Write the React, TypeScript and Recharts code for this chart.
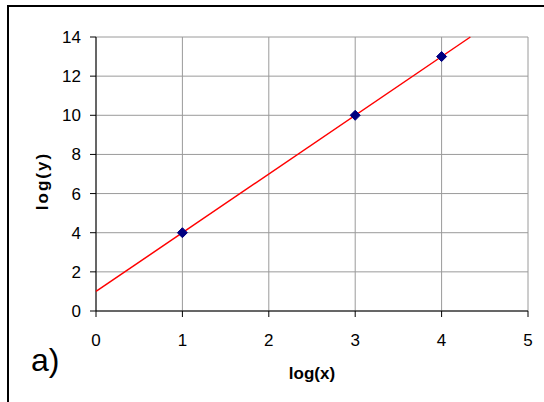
import {
  ScatterChart,
  Scatter,
  XAxis,
  YAxis,
  CartesianGrid
} from 'recharts'

const xTicks = [0, 1, 2, 3, 4, 5]
const yTicks = [0, 2, 4, 6, 8, 10, 12, 14]

// measured points
const pointX = [1, 3, 4]
const pointY = [4, 10, 13]

// trend line ends (y = 3x + 1, clipped at the top)
const trendX = [0, 4.333]
const trendY = [1, 14]

const points = pointX.map((x, i) => ({ x, y: pointY[i] }))
const trend = trendX.map((x, i) => ({ x, y: trendY[i] }))

const font = '"Liberation Sans", Arial, sans-serif'

const Diamond = (props: any) => {
  const { cx, cy } = props
  const r = 5
  return (
    <polygon
      points={`${cx},${cy - r} ${cx + r},${cy} ${cx},${cy + r} ${cx - r},${cy}`}
      fill="#000080"
      stroke="#000080"
    />
  )
}

const NoDot = () => <g />

// rotated y title, a bit below the middle like the original
const YTitle = () => (
  <text
    x={42}
    y={181}
    transform="rotate(-90 42 181)"
    textAnchor="middle"
    dominantBaseline="central"
    fill="#000"
    fontSize={17}
    fontWeight="bold"
    fontFamily={font}
    letterSpacing={2}
  >
    log(y)
  </text>
)

export default function App() {
  return (
    <div
      style={{
        position: 'absolute',
        left: 0,
        top: 0,
        width: 544,
        height: 402,
        overflow: 'hidden',
        background: '#fff',
        fontFamily: font
      }}
    >
      {/* outer frame, runs off the right and bottom edges */}
      <div
        style={{
          position: 'absolute',
          left: 7,
          top: 5,
          width: 580,
          height: 440,
          border: '2px solid #000'
        }}
      />
      <ScatterChart
        width={544}
        height={402}
        margin={{ top: 37, right: 16, bottom: 0, left: 0 }}
        style={{ position: 'absolute', left: 0, top: 0 }}
      >
        <CartesianGrid stroke="#9a9a9a" strokeWidth={1} />
        <XAxis
          type="number"
          dataKey="x"
          domain={[0, 5]}
          ticks={xTicks}
          height={91}
          stroke="#000"
          tickSize={6}
          tickMargin={17}
          tick={{ fill: '#000', fontSize: 17, fontFamily: font }}
          label={{
            value: 'log(x)',
            position: 'insideBottom',
            offset: 23,
            style: { fill: '#000', fontSize: 17, fontWeight: 'bold', fontFamily: font }
          }}
        />
        <YAxis
          type="number"
          dataKey="y"
          domain={[0, 14]}
          ticks={yTicks}
          width={96}
          stroke="#000"
          tickSize={6}
          tickMargin={9}
          tick={{ fill: '#000', fontSize: 17, fontFamily: font }}
          label={<YTitle />}
        />
        <Scatter
          data={trend}
          line={{ stroke: '#ff0000', strokeWidth: 1.5 }}
          shape={NoDot}
          isAnimationActive={false}
        />
        <Scatter data={points} shape={Diamond} isAnimationActive={false} />
      </ScatterChart>
      <div
        style={{
          position: 'absolute',
          left: 31,
          top: 344,
          fontSize: 32,
          lineHeight: '32px',
          color: '#000'
        }}
      >
        a)
      </div>
    </div>
  )
}
